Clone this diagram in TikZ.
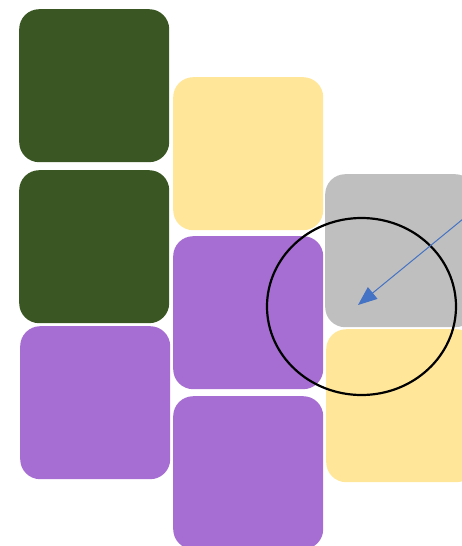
\documentclass[tikz,border=0pt]{standalone}
\usetikzlibrary{arrows.meta,shapes.geometric}

\definecolor{leaf}{HTML}{3A5723}
\definecolor{butter}{HTML}{FFE699}
\definecolor{lilac}{HTML}{A66DD3}
\definecolor{ash}{HTML}{BFBFBF}
\definecolor{pointer}{HTML}{4472C4}

\begin{document}
\begin{tikzpicture}[
  x=1pt, y=-1pt,
  tile/.style={rounded corners=20pt, minimum width=150pt, minimum height=153pt, inner sep=0pt, anchor=north west},
  ring/.style={draw, ellipse, line width=2.2pt, minimum width=189pt, minimum height=177pt, inner sep=0pt}
]
\useasboundingbox (0,0) rectangle (462,546);

% first column
\node[tile, fill=leaf] (g1) at (19,9) {};
\node[tile, fill=leaf] (g2) at (19,170) {};
\node[tile, fill=lilac] (p1) at (20,326) {};

% second column
\node[tile, fill=butter] (y1) at (173,77) {};
\node[tile, fill=lilac] (p2) at (173,236) {};
\node[tile, fill=lilac] (p3) at (173,396) {};

% third column, cut by the right edge
\node[tile, fill=ash] (s1) at (325,174) {};
\node[tile, fill=butter] (y2) at (326,329) {};

\node[ring] (focus) at (361.5,306.5) {};
\coordinate (tail) at (463,219);
\coordinate (head) at (358,305);
\draw[pointer, line width=1pt, -{Triangle[length=19pt,width=15pt]}] (tail) -- (head);

\end{tikzpicture}
\end{document}
